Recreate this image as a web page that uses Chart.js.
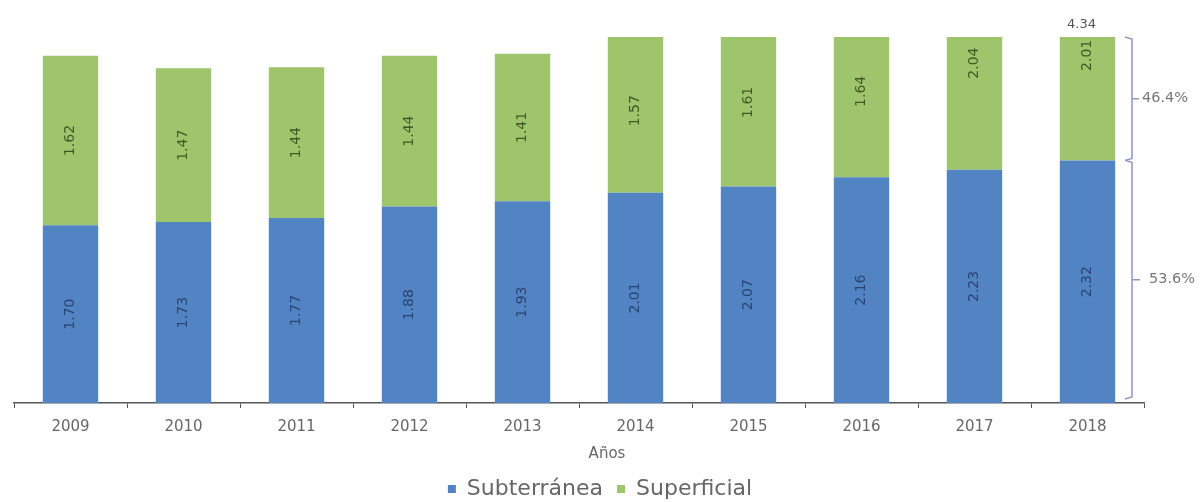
<!DOCTYPE html>
<html><head><meta charset="utf-8">
<script src="https://cdn.jsdelivr.net/npm/chart.js@4.4.1/dist/chart.umd.min.js"></script>
<style>html,body{margin:0;padding:0;background:#fff}#wrap{width:1200px;height:502px;position:relative}</style>
</head><body><div id="wrap"><canvas id="c"></canvas></div>
<script>
const years = ['2009','2010','2011','2012','2013','2014','2015','2016','2017','2018'];
const subterranea = [1.70,1.73,1.77,1.88,1.93,2.01,2.07,2.16,2.23,2.32];
const superficial = [1.62,1.47,1.44,1.44,1.41,1.57,1.61,1.64,2.04,2.01];
const seriesNames = ['Subterránea','Superficial'];
const totalLabel2018 = '4.34';
const axisTitle = 'Años';
const yMax = 3.5;

const FONT = 'DejaVu Sans';
const BLUE = '#5283c3';
const GREEN = '#9ec46c';

function drawRot(ctx, t, x, y, color){
  ctx.save();
  ctx.translate(x, y);
  ctx.rotate(-Math.PI/2);
  ctx.fillStyle = color;
  ctx.fillText(t, 0, 0);
  ctx.restore();
}

const annot = {
  id: 'annot',
  afterDatasetsDraw(chart){
    const ctx = chart.ctx, xs = chart.scales.x, ys = chart.scales.y;
    ctx.save();
    ctx.font = '14px "' + FONT + '"';
    ctx.textAlign = 'center';
    ctx.textBaseline = 'middle';
    years.forEach((yr, i) => {
      const cx = xs.getPixelForValue(i);
      const b = subterranea[i], s = superficial[i];
      drawRot(ctx, b.toFixed(2), cx, ys.getPixelForValue(b/2), '#2b4470');
      drawRot(ctx, s.toFixed(2), cx, ys.getPixelForValue(b + s/2), '#3f5a26');
    });
    const last = years.length - 1;
    ctx.font = '13px "' + FONT + '"';
    ctx.fillStyle = '#555';
    ctx.fillText(totalLabel2018, xs.getPixelForValue(last) - 6, chart.chartArea.top - 12);
    const bx = chart.chartArea.right - 12;
    const yTop = chart.chartArea.top;
    const yMid = ys.getPixelForValue(subterranea[last]);
    const yBot = ys.getPixelForValue(0) - 4;
    ctx.strokeStyle = '#8e96c6';
    ctx.lineWidth = 1.5;
    ctx.beginPath();
    ctx.moveTo(bx - 7, yTop); ctx.lineTo(bx, yTop + 2); ctx.lineTo(bx, yMid - 2); ctx.lineTo(bx - 7, yMid);
    ctx.moveTo(bx - 7, yMid); ctx.lineTo(bx, yMid + 2); ctx.lineTo(bx, yBot - 2); ctx.lineTo(bx - 7, yBot);
    const m1 = (yTop + yMid)/2, m2 = (yMid + yBot)/2;
    ctx.moveTo(bx, m1); ctx.lineTo(bx + 7, m1);
    ctx.moveTo(bx, m2); ctx.lineTo(bx + 8, m2);
    ctx.stroke();
    const tot = subterranea[last] + superficial[last];
    ctx.fillStyle = '#777';
    ctx.textAlign = 'left';
    ctx.font = '14.5px "' + FONT + '"';
    ctx.fillText((superficial[last]/tot*100).toFixed(1) + '%', bx + 10, m1);
    ctx.fillText((subterranea[last]/tot*100).toFixed(1) + '%', bx + 17, m2);
    ctx.textAlign = 'center';
    ctx.fillStyle = '#666';
    ctx.font = '15px "' + FONT + '"';
    ctx.fillText(axisTitle, 607, 454);
    ctx.restore();
  }
};

new Chart(document.getElementById('c'), {
  type: 'bar',
  data: {
    labels: years,
    datasets: [
      {label: seriesNames[0], data: subterranea, backgroundColor: BLUE, barPercentage: 0.49, categoryPercentage: 1},
      {label: seriesNames[1], data: superficial, backgroundColor: GREEN, barPercentage: 0.49, categoryPercentage: 1}
    ]
  },
  options: {
    responsive: true,
    maintainAspectRatio: false,
    animation: false,
    layout: {padding: {top: 37, left: 0, right: 0, bottom: -8}},
    plugins: {
      legend: {
        position: 'bottom',
        labels: {boxWidth: 8, boxHeight: 8, color: '#666', padding: 14, font: {size: 22, family: FONT}}
      },
      tooltip: {enabled: false}
    },
    scales: {
      x: {
        stacked: true,
        grid: {display: true, drawOnChartArea: false, drawTicks: true, tickLength: 5, color: '#555', offset: true},
        border: {display: true, color: '#555', width: 1.5},
        ticks: {color: '#666', padding: 10, font: {size: 15, family: FONT}},
        afterFit(s){ s.height = 61; }
      },
      y: {
        stacked: true, min: 0, max: yMax, position: 'left',
        grid: {display: false}, border: {display: false}, ticks: {display: false},
        afterFit(s){ s.width = 14; }
      },
      y2: {
        type: 'linear', position: 'right', min: 0, max: 1,
        grid: {display: false}, border: {display: false}, ticks: {display: false},
        afterFit(s){ s.width = 56; }
      }
    }
  },
  plugins: [annot]
});
</script>
</body></html>
